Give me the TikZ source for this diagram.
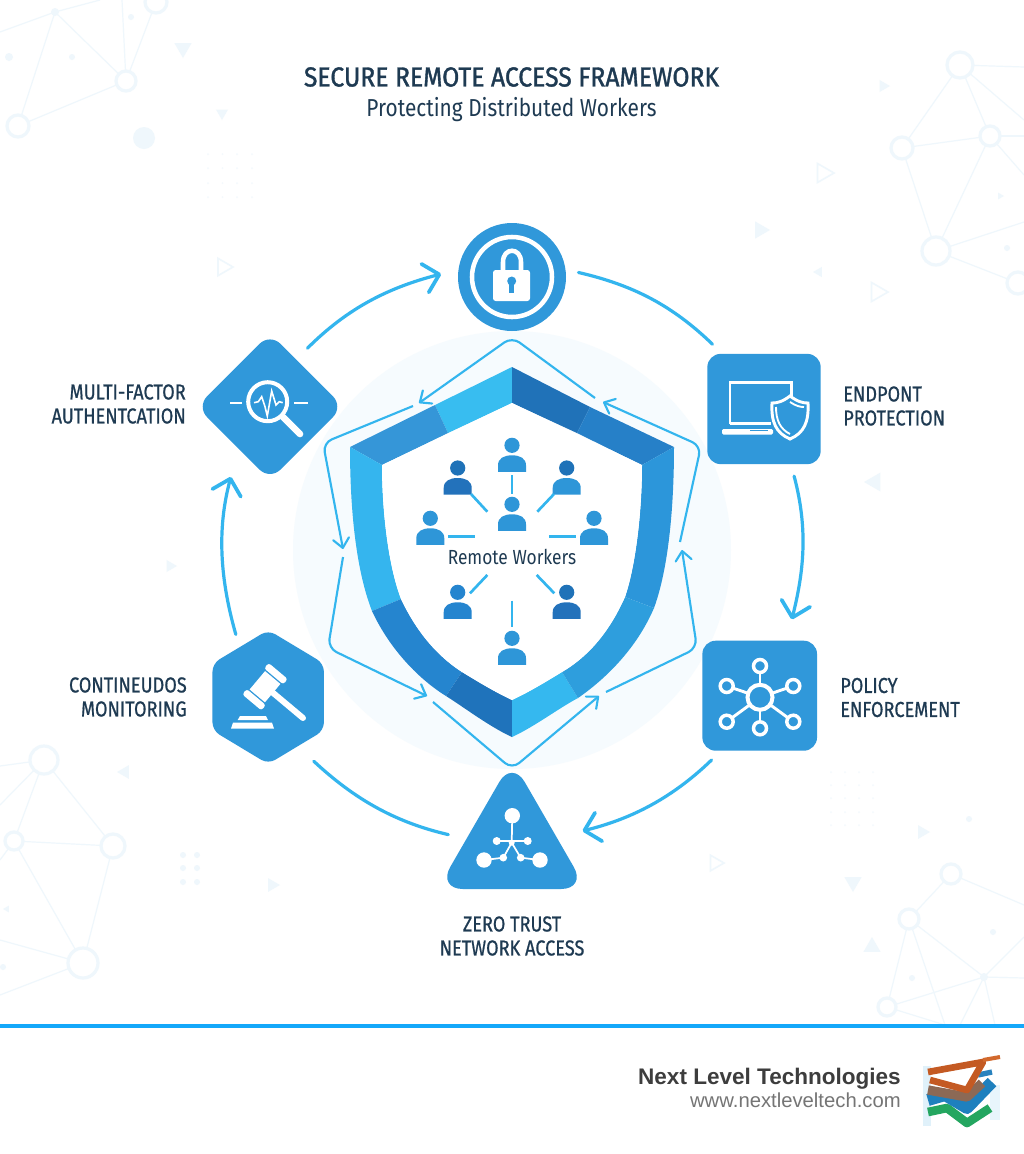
\documentclass[tikz,border=0pt]{standalone}
\usepackage{fontspec}
\usetikzlibrary{shapes.geometric,arrows.meta,calc}
\newfontfamily\titlefont[FakeStretch=0.9,FakeBold=1.3]{Fira Sans}
\newfontfamily\subfont[FakeStretch=0.85]{Fira Sans}
\newfontfamily\labelfont[FakeStretch=0.84,FakeBold=0.7]{Fira Sans}
\newfontfamily\brandfont{Liberation Sans}
\definecolor{iconblue}{HTML}{3098DA}
\definecolor{ringblue}{HTML}{33B5EE}
\definecolor{inkblue}{HTML}{1E3A52}
\definecolor{faintblue}{HTML}{EFF7FC}
\definecolor{glowblue}{HTML}{F6FBFE}
\tikzset{
  icon/.style={fill=iconblue,inner sep=0pt,outer sep=0pt,text=white},
  ringline/.style={draw=ringblue,line width=2.4pt,line cap=round},
  ringarrow/.style={ringline,-{Straight Barb[length=11pt,width=22pt,line width=2.8pt,round]}},
  loopline/.style={draw=ringblue,line width=1.6pt,rounded corners=7pt},
  looparrow/.style={loopline,-{Straight Barb[length=7pt,width=12pt,line width=1.6pt,round]}},
  spoke/.style={draw=ringblue,line width=2pt},
  labeltext/.style={font=\labelfont\fontsize{16.2}{18}\selectfont,text=inkblue,inner sep=0pt},
  faintline/.style={draw=faintblue,line width=0.9pt},
  faintring/.style={draw=faintblue,fill=white,line width=2.4pt},
}
\begin{document}
\begin{tikzpicture}[x=0.75pt,y=-0.75pt]
    \useasboundingbox (0,0) rectangle (1024,1154);
    \fill[white] (0,0) rectangle (1024,1154);

    % faint network in the corners
    \foreach \xa/\ya/\xb/\yb in {55/12/126/81,55/12/18/126,126/81/18/126,126/81/156/2,126/81/122/0,55/12/0/32,55/12/100/0,
        960/65/902/148,960/65/990/136,960/65/1024/67,960/65/1024/120,902/148/990/136,902/148/936/251,990/136/936/251,990/136/1024/136,990/136/1024/175,936/251/1018/283,936/251/1024/222,
        44/760/14/841,44/760/113/846,14/841/113/846,14/841/83/963,113/846/83/963,44/760/0/766,44/760/0/805,14/841/0/860,83/963/0/940,83/963/0/995,
        951/874/909/919,951/874/1024/905,909/919/984/977,909/919/887/1007,909/919/945/1025,887/1007/984/977,984/977/1024/937,984/977/1024/978,984/977/960/1025,984/977/995/1025,887/1007/945/1025}
        \draw[faintline] (\xa,\ya) -- (\xb,\yb);
    \foreach \x/\y/\r in {126/81/10,18/126/11,156/2/11,960/65/13,902/148/11,990/136/10,936/251/14,1018/283/11,
        44/760/14,14/841/9,113/846/12,83/963/15,951/874/10,909/919/10,887/1007/9}
        \draw[faintring] (\x,\y) circle[radius=\r];
    \foreach \x/\y/\r in {55/12/4,9/57/4,72/57/3,131/17/3,144/138/11,1007/248/3,3/967/3,969/819/3,993/932/3,912/978/3,984/977/4}
        \fill[faintblue] (\x,\y) circle[radius=\r];
    \foreach \x in {208,222.5,237,252}
        \foreach \y in {154,168,183,197}
            \fill[faintblue!70] (\x,\y) circle[radius=1];
    \foreach \x in {831,845,859,873}
        \foreach \y in {772,785,798,812,825}
            \fill[faintblue!70] (\x,\y) circle[radius=1];
    \foreach \x/\y in {183/855,197/855,183/868,197/868,183/882,197/882}
        \fill[faintblue] (\x,\y) circle[radius=3];
    % faint triangles, angles are upside down here because y runs downward
    \foreach \x/\y/\a/\r in {183/48/90/10,222/113/90/7,883/86/0/7,819/272/180/6,1000/196/0/4,125/772/180/8,272/885/0/8,7/909/180/4,
        853/882/90/10,872/947/-90/10,922/832/0/8,875/482/180/11,170/566/0/7,760/230/0/10}
        \fill[faintblue] (\x,\y) ++(\a:\r) -- ++(\a+150:1.73*\r) -- ++(\a+270:1.73*\r) -- cycle;
    \foreach \x/\y/\a/\r in {223/267/0/10,823/173/0/11,877/292/0/11,715/863/0/9}
        \draw[faintblue,line width=1.2pt] (\x,\y) ++(\a:\r) -- ++(\a+150:1.73*\r) -- ++(\a+270:1.73*\r) -- cycle;

    % glow behind the shield
    \fill[glowblue] (512,550) circle[radius=219];

    % title
    \node[font=\titlefont\fontsize{20.6}{24}\selectfont,text=inkblue,inner sep=0pt] (title) at (511.5,77) {SECURE REMOTE ACCESS FRAMEWORK};
    \node[font=\subfont\fontsize{18.4}{22}\selectfont,text=inkblue,inner sep=0pt] (subtitle) at (511.5,109.5) {Protecting Distributed Workers};

    % the six icons
    \node[icon,circle,minimum size=81pt] (lock) at (512,277) {};
    \node[icon,rectangle,rounded corners=10pt,minimum width=85pt,minimum height=82.7pt] (endpoint) at (764,409) {};
    \node[icon,rectangle,rounded corners=10pt,minimum width=86pt,minimum height=82.5pt] (policy) at (759.7,695.7) {};
    \node[icon,regular polygon,regular polygon sides=3,rounded corners=19pt,minimum size=129pt] (ztna) at (512,846) {};
    \node[icon,regular polygon,regular polygon sides=6,shape border rotate=30,rounded corners=6pt,xscale=0.96,minimum size=100.5pt] (monitor) at (268.2,697) {};
    \node[icon,diamond,rounded corners=11pt,minimum width=110pt,minimum height=110pt] (mfa) at (270,406.7) {};

    % outer ring
    \draw[ringarrow,shorten <=12pt,shorten >=13.5pt] (mfa.61) to[out=45,in=194.5] (lock.172);
    \draw[ringline,shorten <=10pt,shorten >=10.5pt] (lock.8) to[out=-13,in=136] (endpoint.127);
    \draw[ringarrow,shorten <=9.3pt,shorten >=16.5pt] (endpoint.-64) to[out=-75,in=76] (policy.64);
    \draw[ringarrow,shorten <=10pt,shorten >=20pt] (policy.-125) to[out=-136,in=14] ($(ztna.corner 1)!0.6!(ztna.corner 3)$);
    \draw[ringline,shorten <=14pt,shorten >=16.5pt] (ztna.171) to[out=167,in=-43] (monitor.-58);
    \draw[ringarrow,shorten <=10pt,shorten >=22pt] (monitor.121) to[out=106,in=-105] (mfa.233);

    % shield
    \fill[color={rgb,255:red,56;green,189;blue,240}] (512,367) -- (512,403) -- (448,433) -- (435,405) -- cycle;
    \fill[color={rgb,255:red,32;green,114;blue,184}] (512,367) -- (512,403) -- (577,433) -- (590,407) -- cycle;
    \fill[color={rgb,255:red,38;green,128;blue,200}] (590,407) -- (577,433) -- (642,465) -- (674,447) -- cycle;
    \fill[color={rgb,255:red,53;green,150;blue,216}] (435,405) -- (448,433) -- (382,465) -- (350,447) -- cycle;
    \fill[color={rgb,255:red,53;green,181;blue,238}] (350,447) -- (382,465) .. controls (382,510) and (388,565) .. (401,599)
        -- (372,611) .. controls (356,570) and (350,510) .. (350,447) -- cycle;
    \fill[color={rgb,255:red,44;green,150;blue,218}] (674,447) -- (642,465) .. controls (642,510) and (636,565) .. (625,597)
        -- (654,608) .. controls (668,570) and (674,510) .. (674,447) -- cycle;
    \fill[color={rgb,255:red,37;green,133;blue,207}] (372,611) -- (401,599) .. controls (418,635) and (440,658) .. (462,672)
        -- (446,696) .. controls (420,680) and (390,650) .. (372,611) -- cycle;
    \fill[color={rgb,255:red,31;green,115;blue,187}] (446,696) -- (462,672) .. controls (480,683) and (495,692) .. (512,700)
        -- (512,737) .. controls (490,727) and (465,708) .. (446,696) -- cycle;
    \fill[color={rgb,255:red,53;green,184;blue,239}] (578,698) -- (562,672) .. controls (544,683) and (529,692) .. (512,700)
        -- (512,737) .. controls (534,727) and (559,708) .. (578,698) -- cycle;
    \fill[color={rgb,255:red,46;green,158;blue,221}] (654,608) -- (625,597) .. controls (608,635) and (586,658) .. (562,672)
        -- (578,698) .. controls (604,680) and (636,650) .. (654,608) -- cycle;
    \fill[white] (512,403) -- (642,465) .. controls (642,510) and (636,565) .. (625,597)
        .. controls (608,635) and (586,658) .. (562,672) .. controls (544,683) and (529,692) .. (512,700)
        .. controls (495,692) and (480,683) .. (462,672) .. controls (440,658) and (418,635) .. (401,599)
        .. controls (388,565) and (382,510) .. (382,465) -- cycle;

    % loop round the shield
    \coordinate (tr) at (595,398); \coordinate (tm) at (512,337); \coordinate (tl) at (419,403);
    \coordinate (ul) at (413,406); \coordinate (ulc) at (323,443); \coordinate (ll) at (343,549);
    \coordinate (ml) at (343,557); \coordinate (mlc) at (328,648); \coordinate (bl) at (427,696);
    \coordinate (bs) at (433,702); \coordinate (bm) at (512,769); \coordinate (br) at (599,696);
    \coordinate (rs) at (606,692); \coordinate (rmc) at (697,648); \coordinate (re) at (682,550);
    \coordinate (us) at (680,542); \coordinate (urc) at (701,446); \coordinate (ue) at (603,402);
    \draw[looparrow] (tr) -- (tm) -- (tl);
    \draw[looparrow] (ul) -- (ulc) -- (ll);
    \draw[looparrow] (ml) -- (mlc) -- (bl);
    \draw[looparrow] (bs) -- (bm) -- (br);
    \draw[looparrow] (rs) -- (rmc) -- (re);
    \draw[looparrow] (us) -- (urc) -- (ue);

    % remote workers
    \foreach \x/\y/\hc/\bc in {512/445.3/2E96D8/2E96D8,457.7/468/1F72B8/2372BB,566.7/468/1F72B8/2E96D8,512/504.3/2E96D8/2E96D8,
        430.3/518.3/2E96D8/2E96D8,594/518.3/2E96D8/2E96D8,457.7/592.3/2585CF/2585CF,566.7/592.3/1F72B8/2372BB,512/638.3/2E96D8/2E96D8} {
        \definecolor{headcol}{HTML}{\hc}
        \definecolor{bodycol}{HTML}{\bc}
        \begin{scope}[shift={(\x,\y)}]
            \fill[headcol] (0,0) circle[radius=7.6];
            \fill[bodycol] (-14,26.5) -- (-14,20) .. controls (-14,13) and (-8,10) .. (0,10)
                .. controls (8,10) and (14,13) .. (14,20) -- (14,26.5) -- cycle;
        \end{scope}
    }
    \foreach \i/\xa/\ya/\xb/\yb in {1/512/475/512/494,2/471/494/487.3/511.7,3/554/494/537.3/511.7,4/448.3/536.3/475.3/536.3,
        5/549/536.3/576/536.3,6/487.3/575/470/593.3,7/536.7/575/554.3/593.3,8/512/600.7/512/626.7} {
        \coordinate (spokea\i) at (\xa,\ya);
        \coordinate (spokeb\i) at (\xb,\yb);
        \draw[spoke] (spokea\i) -- (spokeb\i);
    }
    \node[font=\subfont\fontsize{15.3}{18}\selectfont,text=inkblue,inner sep=0pt] (workers) at (512,557) {Remote Workers};

    % padlock
    \draw[white,line width=3.4pt] (lock.center) circle[radius=40];
    \draw[white,line width=3.4pt] (503,272) -- (503,262) .. controls (503,247) and (521,247) .. (521,262) -- (521,272);
    \fill[white,rounded corners=2pt] (493,270) rectangle (530,301);
    \fill[iconblue] (511.7,281) circle[radius=4.5];
    \fill[iconblue] (509.2,282) rectangle (514.2,293);

    % magnifier and pulse
    \draw[white,line width=3pt] (267.7,401.7) circle[radius=19.5];
    \draw[white,line width=5pt,line cap=round] (283,417) -- (300,434);
    \draw[white,line width=1.8pt] (230,403) -- (241.7,403);
    \draw[white,line width=1.8pt] (294,403) -- (307.7,403);
    \draw[white,line width=1.2pt] (254,402.7) -- (258.3,401.7) -- (261.7,396.7) -- (265,406.7) -- (267.3,416) -- (271.7,391) -- (276,405) -- (279.3,401.7) -- (282.7,402.7);

    % laptop with shield
    \draw[white,line width=2.2pt] (730,424) -- (730,382.3) -- (791.7,382.3) -- (791.7,396);
    \draw[white,line width=2.2pt] (730,423.3) -- (771,423.3);
    \fill[white,rounded corners=1pt] (722,429) rectangle (773,434.5);
    \fill[iconblue] (750,429.5) rectangle (768,431);
    \filldraw[fill=iconblue,draw=white,line width=2.2pt] (790,396) .. controls (782,402) and (777,403) .. (772,403)
        .. controls (771,422) and (776,433) .. (790,439) .. controls (804,433) and (809,422) .. (808,403)
        .. controls (803,403) and (798,402) .. (790,396) -- cycle;
    \draw[white,line width=1.4pt] (776,407) .. controls (776,420) and (780,429) .. (790,434);
    \draw[white,line width=1.4pt] (790,402) .. controls (796,406) and (800,407) .. (804,407);

    % hub and spokes
    \foreach \x/\y in {760/666,793.3/686,726.7/686,726.7/721.7,793.3/721.7,760/728.3} {
        \draw[white,line width=2.2pt] (760,697.3) -- (\x,\y);
        \filldraw[fill=iconblue,draw=white,line width=2.6pt] (\x,\y) circle[radius=6.5];
    }
    \filldraw[fill=iconblue,draw=white,line width=3pt] (760,697.3) circle[radius=12.5];

    % gavel
    \begin{scope}[shift={(265,686.7)},rotate=-40]
        \fill[white] (-10,-12) rectangle (10,12);
        \fill[white,rounded corners=2pt] (-12.5,-20.5) rectangle (12.5,-13.5);
        \fill[white,rounded corners=2pt] (-12.5,13.5) rectangle (12.5,20.5);
    \end{scope}
    \draw[white,line width=4.5pt,line cap=round] (272,692) -- (303,718);
    \fill[white] (240,716) -- (266,716) -- (268,720) -- (237.7,720) -- cycle;
    \fill[white] (233,722.5) -- (272,722.5) -- (274,728.7) -- (231,728.7) -- cycle;

    % zero trust graph
    \draw[white,line width=1.3pt] (512.3,815.7) -- (511.7,842.7);
    \draw[white,line width=1.3pt] (496.7,841) -- (527.7,841);
    \draw[white,line width=1.3pt] (484,860) -- (503.3,857.7) -- (511.7,842.7) -- (520.7,857.7) -- (540,860);
    \foreach \x/\y/\r in {512.3/815.7/7.7,484/860/7.7,540/860/7.7,496.7/841/4,527.7/841/4,503.3/857.7/3.8,520.7/857.7/3.8,511.7/842.7/3}
        \fill[white] (\x,\y) circle[radius=\r];

    % labels
    \node[labeltext,anchor=east,align=right] (mfalabel) at (186,404) {MULTI-FACTOR\\AUTHENTCATION};
    \node[labeltext,anchor=west,align=left] (endpointlabel) at (843,406) {ENDPONT\\PROTECTION};
    \node[labeltext,anchor=west,align=left] (policylabel) at (840,697.5) {POLICY\\ENFORCEMENT};
    \node[labeltext,anchor=east,align=right] (monitorlabel) at (187,697) {CONTINEUDOS\\MONITORING};
    \node[labeltext,align=center] (ztnalabel) at (512,936) {ZERO TRUST\\NETWORK ACCESS};

    % footer
    \fill[color={rgb,255:red,20;green,168;blue,250}] (0,1024) rectangle (1024,1027.5);
    \fill[white] (0,1027.5) rectangle (1024,1154);
    \node[font=\brandfont\bfseries\fontsize{16.9}{22}\selectfont,text=black!76,anchor=east,inner sep=0pt] (brand) at (901,1079) {Next Level Technologies};
    \node[font=\brandfont\fontsize{15.2}{18}\selectfont,text=black!54,anchor=east,inner sep=0pt] (site) at (901,1100.5) {www.nextleveltech.com};

    % logo
    \fill[color={rgb,255:red,224;green,241;blue,250}] (923,1066) rectangle (931,1126);
    \fill[color={rgb,255:red,232;green,245;blue,252}] (990,1085) rectangle (1000,1120);
    \draw[line width=6.5pt,color={rgb,255:red,36;green,166;blue,96},line join=round] (928,1112) -- (947,1108) -- (967,1123) -- (990,1108);
    \draw[line width=9pt,color={rgb,255:red,30;green,128;blue,190},line join=round] (928,1100) -- (945,1095) -- (967,1108) -- (992,1082);
    \draw[line width=4pt,color={rgb,255:red,40;green,130;blue,190}] (978,1075) -- (992,1072);
    \draw[line width=7pt,color={rgb,255:red,140;green,105;blue,85},line join=round] (928,1090) -- (967,1097) -- (982,1083);
    \draw[line width=5pt,color={rgb,255:red,196;green,90;blue,35},line join=round] (928,1072) -- (983,1062) -- (967,1090) -- (930,1080);
    \draw[line width=3pt,color={rgb,255:red,210;green,105;blue,45}] (983,1060) -- (1000,1057);
\end{tikzpicture}
\end{document}
